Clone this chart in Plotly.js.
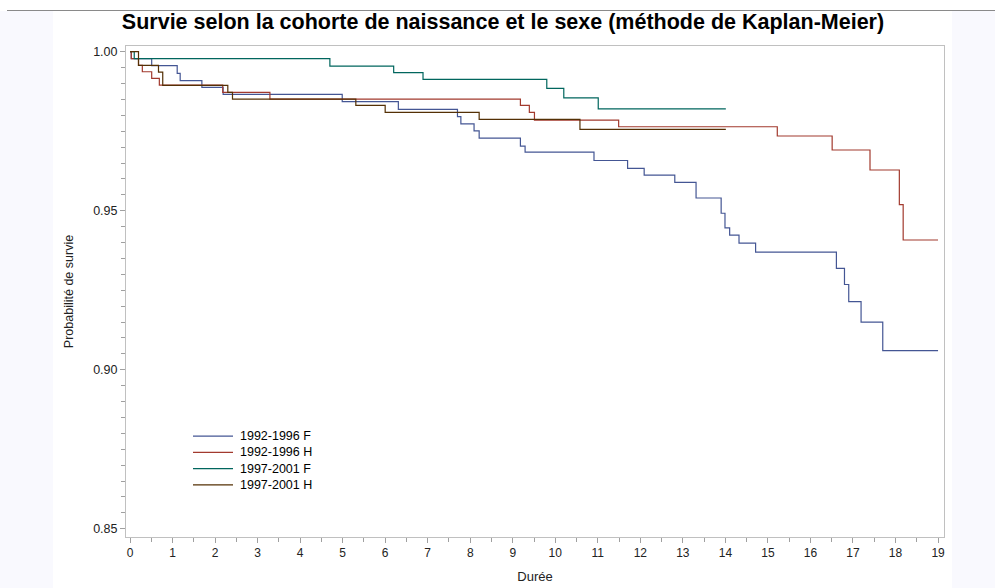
<!DOCTYPE html>
<html>
<head>
<meta charset="utf-8">
<script src="https://cdn.plot.ly/plotly-3.0.1.min.js"></script>
<style>html,body{margin:0;padding:0;background:#fff;}#chart{width:995px;height:588px;}</style>
</head>
<body>
<div id="chart"></div>
<script>
// ---- data ----
var seriesNames = ["1992-1996 F", "1992-1996 H", "1997-2001 F", "1997-2001 H"];
var seriesColors = ["#445694", "#A23A2E", "#01665E", "#543005"];

var t_9296F = [0, 0.03, 0.51, 1.11, 1.18, 1.69, 2.19, 4.99, 6.31, 7.70, 7.78, 8.09, 8.21, 9.18, 9.29, 10.91, 11.70, 12.09, 12.81, 13.31, 13.90, 13.99, 14.10, 14.32, 14.71, 16.61, 16.80, 16.90, 17.19, 17.70, 19.0];
var s_9296F = [1.0, 0.9978, 0.9956, 0.9932, 0.9909, 0.9888, 0.9866, 0.9843, 0.9819, 0.9796, 0.9773, 0.9751, 0.9728, 0.9703, 0.9684, 0.9658, 0.9633, 0.9612, 0.9589, 0.9540, 0.9492, 0.9446, 0.9423, 0.9398, 0.9370, 0.9319, 0.9268, 0.9214, 0.9150, 0.9060, 0.9060];

var t_9296H = [0, 0.03, 0.20, 0.29, 0.51, 0.69, 2.18, 3.29, 9.18, 9.39, 9.51, 11.49, 15.22, 16.51, 17.40, 18.09, 18.18, 19.0];
var s_9296H = [1.0, 0.9978, 0.9957, 0.9937, 0.9916, 0.9895, 0.9872, 0.9851, 0.9831, 0.9809, 0.9785, 0.9764, 0.9735, 0.9691, 0.9628, 0.9519, 0.9408, 0.9408];

var t_9701F = [0, 0.10, 4.70, 6.20, 6.89, 9.80, 10.20, 11.01, 14.01];
var s_9701F = [1.0, 0.9978, 0.9955, 0.9934, 0.9913, 0.9885, 0.9855, 0.9820, 0.9820];

var t_9701H = [0, 0.20, 0.67, 0.77, 2.30, 2.41, 5.31, 6.00, 8.21, 10.58, 14.01];
var s_9701H = [1.0, 0.9957, 0.9936, 0.9894, 0.9872, 0.9851, 0.9831, 0.9809, 0.9787, 0.9756, 0.9756];

var xTickVals = [0,1,2,3,4,5,6,7,8,9,10,11,12,13,14,15,16,17,18,19];
var yTickVals = [0.85, 0.90, 0.95, 1.00];

var times = [t_9296F, t_9296H, t_9701F, t_9701H];
var surv = [s_9296F, s_9296H, s_9701F, s_9701H];

// ---- layout geometry (pixels) ----
var W = 995, H = 588;
var M = {l: 126, r: 51, t: 46, b: 51};
var PW = W - M.l - M.r, PH = H - M.t - M.b;
function px(x) { return (x - M.l) / PW; }
function py(y) { return (H - M.b - y) / PH; }

var FONT = "Liberation Sans, Arial, sans-serif";

var traces = [];
for (var i = 0; i < seriesNames.length; i++) {
  traces.push({
    type: "scatter", mode: "lines",
    x: times[i], y: surv[i],
    name: seriesNames[i],
    line: {shape: "hv", color: seriesColors[i], width: 1.2},
    showlegend: false, hoverinfo: "x+y+name"
  });
}

var shapes = [
  {type: "rect", xref: "paper", yref: "paper", x0: px(0), x1: px(53), y0: py(588), y1: py(11), fillcolor: "#f9f9fe", line: {width: 0}, layer: "below"},
  {type: "rect", xref: "paper", yref: "paper", x0: px(952), x1: px(995), y0: py(588), y1: py(11), fillcolor: "#f9f9fe", line: {width: 0}, layer: "below"},
  {type: "line", xref: "paper", yref: "paper", x0: px(7), x1: px(995), y0: py(10.5), y1: py(10.5), line: {color: "#8a8a8a", width: 1}}
];

// custom legend: one multi-line text block + line samples at each text row
var LEG_FONT = 12.5;
var lineStep = LEG_FONT * 1.3;
var legCenter = 460.5;
var n = seriesNames.length;
for (var k = 0; k < n; k++) {
  var rowY = legCenter + (k - (n - 1) / 2) * lineStep;
  shapes.push({type: "line", xref: "paper", yref: "paper", x0: px(193), x1: px(233), y0: py(rowY), y1: py(rowY), line: {color: seriesColors[k], width: 1.2}});
}
var annotations = [{
  xref: "paper", yref: "paper", x: px(238), y: py(legCenter),
  xanchor: "left", yanchor: "middle", align: "left", showarrow: false,
  text: seriesNames.join("<br>"),
  font: {family: FONT, size: LEG_FONT, color: "#000"}
}];

var layout = {
  width: W, height: H,
  margin: M,
  paper_bgcolor: "#ffffff",
  plot_bgcolor: "#ffffff",
  showlegend: false,
  title: {text: "Survie selon la cohorte de naissance et le sexe (méthode de Kaplan-Meier)",
          font: {family: FONT, size: 21.5, color: "#000", weight: "bold"},
          xref: "container", x: 503 / W, xanchor: "center",
          yref: "container", y: 1 - 21 / H, yanchor: "middle"},
  xaxis: {
    range: [-0.094, 19.14], tickmode: "array", tickvals: xTickVals,
    ticks: "outside", ticklen: 5, tickcolor: "#a0a0a0", tickwidth: 1,
    minor: {dtick: 0.5, tick0: 0, ticks: "outside", ticklen: 4, tickcolor: "#a0a0a0"},
    showline: true, linecolor: "#c0c0c0", linewidth: 1, mirror: true,
    showgrid: false, zeroline: false,
    tickfont: {family: FONT, size: 12, color: "#222"},
    title: {text: "Durée", font: {family: FONT, size: 13, color: "#222"}, standoff: 12}
  },
  yaxis: {
    range: [0.8474, 1.0018], tickmode: "array", tickvals: yTickVals, tickformat: ".2f",
    ticks: "outside", ticklen: 5, tickcolor: "#a0a0a0", tickwidth: 1,
    minor: {dtick: 0.005, tick0: 0.85, ticks: "outside", ticklen: 4, tickcolor: "#a0a0a0"},
    showline: true, linecolor: "#c0c0c0", linewidth: 1, mirror: true,
    showgrid: false, zeroline: false,
    tickfont: {family: FONT, size: 12.5, color: "#222"},
    title: {text: "Probabilité de survie", font: {family: FONT, size: 12.5, color: "#222"}, standoff: 16}
  },
  shapes: shapes,
  annotations: annotations
};

Plotly.newPlot("chart", traces, layout, {displayModeBar: false, staticPlot: true});
</script>
</body>
</html>
